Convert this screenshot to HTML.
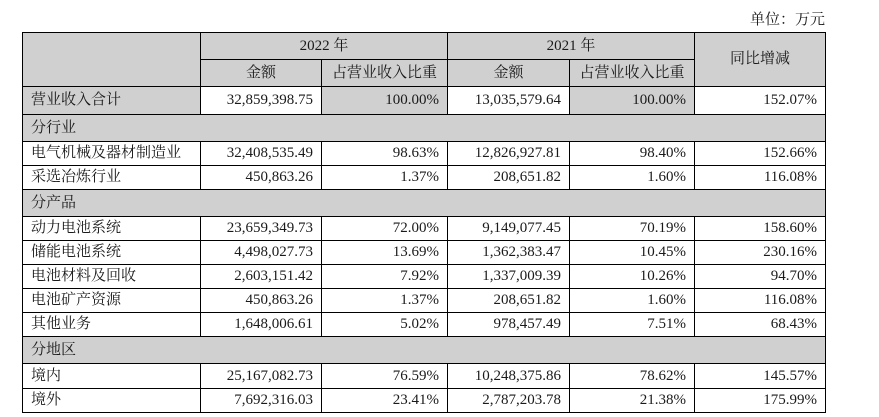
<!DOCTYPE html>
<html><head><meta charset="utf-8"><style>
body{margin:0;width:879px;height:417px;background:#fff;position:relative;overflow:hidden;font-family:"Liberation Serif","Noto Serif CJK SC",serif;color:#1a1a1a;}
#unit{position:absolute;right:54px;top:8px;font-size:15px;}
table{position:absolute;left:22px;top:32px;border-collapse:collapse;table-layout:fixed;width:804px;font-size:15px;}
td{border:1.3px solid #000;padding:0 8px;white-space:nowrap;line-height:1;overflow:hidden;}
.g{background:#d0d0d0;}
.c{text-align:center;}
.r{text-align:right;}
.l{text-align:left;}
</style></head><body>
<div id="unit">单位：万元</div>
<table>
<colgroup><col style="width:178px"><col style="width:121px"><col style="width:126px"><col style="width:122px"><col style="width:125px"><col style="width:131px"></colgroup>
<tr style="height:27px"><td class="g" rowspan="2"></td><td class="g c" colspan="2">2022 年</td><td class="g c" colspan="2">2021 年</td><td class="g c" rowspan="2">同比增减</td></tr>
<tr style="height:27px"><td class="g c">金额</td><td class="g c">占营业收入比重</td><td class="g c">金额</td><td class="g c">占营业收入比重</td></tr>
<tr style="height:28px"><td class="g l">营业收入合计</td><td class="r">32,859,398.75</td><td class="g r">100.00%</td><td class="r">13,035,579.64</td><td class="g r">100.00%</td><td class="r">152.07%</td></tr>
<tr style="height:27px"><td class="g l" colspan="6">分行业</td></tr>
<tr style="height:24px"><td class="l">电气机械及器材制造业</td><td class="r">32,408,535.49</td><td class="r">98.63%</td><td class="r">12,826,927.81</td><td class="r">98.40%</td><td class="r">152.66%</td></tr>
<tr style="height:24px"><td class="l">采选冶炼行业</td><td class="r">450,863.26</td><td class="r">1.37%</td><td class="r">208,651.82</td><td class="r">1.60%</td><td class="r">116.08%</td></tr>
<tr style="height:27px"><td class="g l" colspan="6">分产品</td></tr>
<tr style="height:24px"><td class="l">动力电池系统</td><td class="r">23,659,349.73</td><td class="r">72.00%</td><td class="r">9,149,077.45</td><td class="r">70.19%</td><td class="r">158.60%</td></tr>
<tr style="height:24px"><td class="l">储能电池系统</td><td class="r">4,498,027.73</td><td class="r">13.69%</td><td class="r">1,362,383.47</td><td class="r">10.45%</td><td class="r">230.16%</td></tr>
<tr style="height:24px"><td class="l">电池材料及回收</td><td class="r">2,603,151.42</td><td class="r">7.92%</td><td class="r">1,337,009.39</td><td class="r">10.26%</td><td class="r">94.70%</td></tr>
<tr style="height:24px"><td class="l">电池矿产资源</td><td class="r">450,863.26</td><td class="r">1.37%</td><td class="r">208,651.82</td><td class="r">1.60%</td><td class="r">116.08%</td></tr>
<tr style="height:24px"><td class="l">其他业务</td><td class="r">1,648,006.61</td><td class="r">5.02%</td><td class="r">978,457.49</td><td class="r">7.51%</td><td class="r">68.43%</td></tr>
<tr style="height:27px"><td class="g l" colspan="6">分地区</td></tr>
<tr style="height:25px"><td class="l">境内</td><td class="r">25,167,082.73</td><td class="r">76.59%</td><td class="r">10,248,375.86</td><td class="r">78.62%</td><td class="r">145.57%</td></tr>
<tr style="height:24px"><td class="l">境外</td><td class="r">7,692,316.03</td><td class="r">23.41%</td><td class="r">2,787,203.78</td><td class="r">21.38%</td><td class="r">175.99%</td></tr>
</table>
</body></html>
